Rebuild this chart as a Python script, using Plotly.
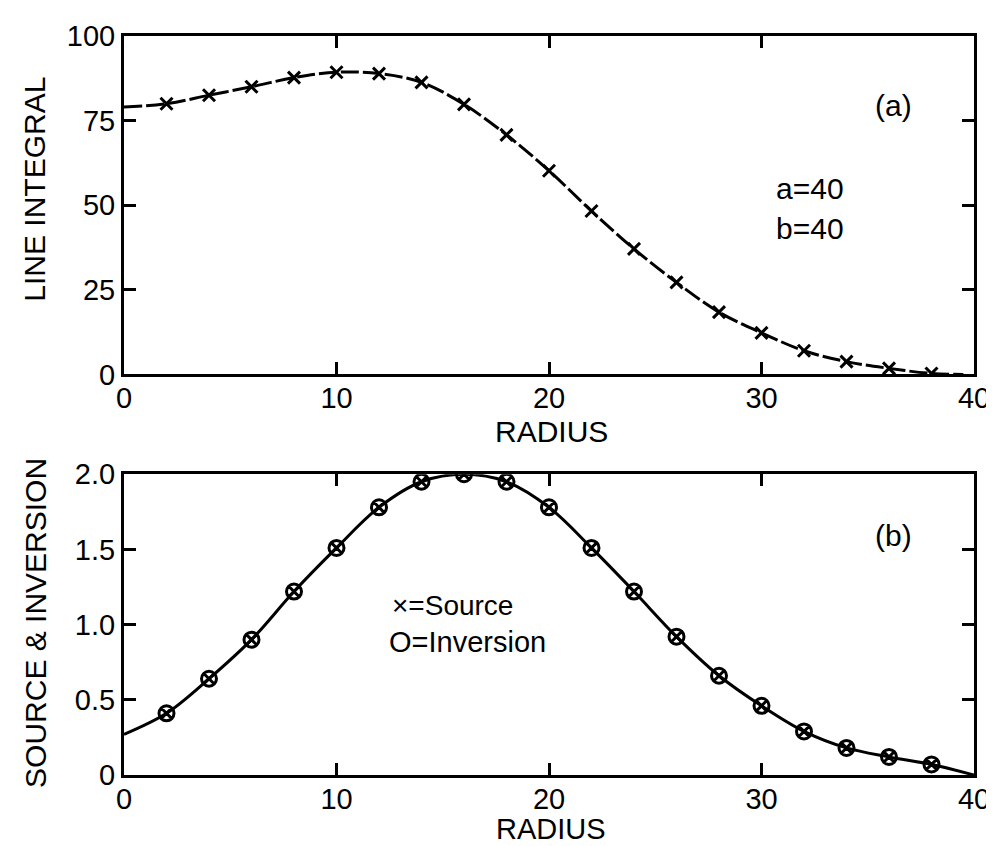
import plotly.graph_objects as go

# Panel (a): line integral
radius_pts = [2, 4, 6, 8, 10, 12, 14, 16, 18, 20, 22, 24, 26, 28, 30, 32, 34, 36, 38]
line_integral_pts = [80.0, 82.5, 85.0, 87.7, 89.3, 88.9, 86.3, 79.8, 70.8, 60.2, 48.3, 37.1,
                     27.2, 18.4, 12.3, 7.0, 3.8, 1.8, 0.3]
curve_a_x = [0, 2, 4, 6, 8, 10, 12, 14, 16, 18, 20, 22, 24, 26, 28, 30, 32, 34, 36, 38, 39.5]
curve_a_y = [79.0, 80.0, 82.5, 85.0, 87.7, 89.3, 88.9, 86.3, 79.8, 70.8, 60.2, 48.3, 37.1,
             27.2, 18.4, 12.3, 7.0, 3.8, 1.8, 0.3, 0.0]

# Panel (b): source & inversion
source_pts = [0.41, 0.64, 0.90, 1.22, 1.51, 1.78, 1.95, 2.00, 1.95, 1.78, 1.51, 1.22,
              0.92, 0.66, 0.46, 0.29, 0.18, 0.12, 0.07]
curve_b_x = [0, 2, 4, 6, 8, 10, 12, 14, 16, 18, 20, 22, 24, 26, 28, 30, 32, 34, 36, 38, 40]
curve_b_y = [0.27, 0.41, 0.64, 0.90, 1.22, 1.51, 1.78, 1.95, 2.00, 1.95, 1.78, 1.51, 1.22,
             0.92, 0.66, 0.46, 0.29, 0.18, 0.12, 0.07, 0.0]

x_ticks = [0, 10, 20, 30, 40]
ya_ticks = [0, 25, 50, 75, 100]
yb_ticks = [0, 0.5, 1.0, 1.5, 2.0]
yb_ticktext = ["0", "0.5", "1.0", "1.5", "2.0"]

FONT = "Liberation Sans, Arial, sans-serif"
TICKFONT = dict(family=FONT, size=29, color="black")

fig = go.Figure()

fig.add_trace(go.Scatter(x=curve_a_x, y=curve_a_y, mode="lines",
                         line=dict(color="black", width=3, shape="spline", dash="18px,4px"),
                         xaxis="x", yaxis="y", showlegend=False, hoverinfo="skip"))
fig.add_trace(go.Scatter(x=radius_pts, y=line_integral_pts, mode="markers",
                         marker=dict(symbol="x-thin-open", size=12, color="black",
                                     line=dict(color="black", width=3)),
                         xaxis="x", yaxis="y", showlegend=False))

fig.add_trace(go.Scatter(x=curve_b_x, y=curve_b_y, mode="lines",
                         line=dict(color="black", width=3, shape="spline"),
                         xaxis="x2", yaxis="y2", showlegend=False, hoverinfo="skip"))
fig.add_trace(go.Scatter(x=radius_pts, y=source_pts, mode="markers",
                         marker=dict(symbol="circle-x-open", size=15, color="black",
                                     line=dict(color="black", width=3)),
                         xaxis="x2", yaxis="y2", showlegend=False))

ax_common = dict(range=[0, 40], tickvals=x_ticks, ticks="inside", ticklen=12, tickwidth=3, tickcolor="black",
                 showline=True, linecolor="black", linewidth=3, mirror="ticks", showgrid=False, zeroline=False,
                 tickfont=TICKFONT, ticklabelstandoff=-4)
ay_common = dict(ticks="inside", ticklen=12, tickwidth=3, tickcolor="black", showline=True, linecolor="black",
                 linewidth=3, mirror="ticks", showgrid=False, zeroline=False, tickfont=TICKFONT)

fig.update_layout(
    width=994, height=846,
    margin=dict(l=116, r=25, t=20, b=79),
    plot_bgcolor="white", paper_bgcolor="white",
    font=dict(family=FONT, color="black"),
    xaxis=dict(domain=[0, 1], anchor="y", **ax_common),
    yaxis=dict(domain=[0.542, 1.0], anchor="x", range=[0, 100], tickvals=ya_ticks, **ay_common),
    xaxis2=dict(domain=[0, 1], anchor="y2", **ax_common),
    yaxis2=dict(domain=[0.0, 0.407], anchor="x2", range=[0, 2], tickvals=yb_ticks, ticktext=yb_ticktext,
                **ay_common),
)

def px_to_paper(xp, yp):
    # pixel coordinates -> paper fractions
    return (xp - 116) / 853.0, (767 - yp) / 747.0

def add_text(text, xp, yp, size=30, angle=0, xanchor="center"):
    fx, fy = px_to_paper(xp, yp)
    fig.add_annotation(text=text, x=fx, y=fy, xref="paper", yref="paper", showarrow=False,
                       textangle=angle, xanchor=xanchor, yanchor="middle",
                       font=dict(family=FONT, size=size, color="black"))

add_text("LINE INTEGRAL", 26, 175, angle=-90)
add_text("SOURCE &amp; INVERSION", 27, 613, angle=-90)
add_text("RADIUS", 545, 420)
add_text("RADIUS", 545, 822, size=29)
add_text("(a)", 888, 90)
add_text("a=40", 768, 174, xanchor="left")
add_text("b=40", 768, 215, xanchor="left")
add_text("(b)", 888, 525)
add_text("×=Source", 383, 596, size=28, xanchor="left")
add_text("O=Inversion", 380, 633, size=29, xanchor="left")

fig.write_html("out.html")
